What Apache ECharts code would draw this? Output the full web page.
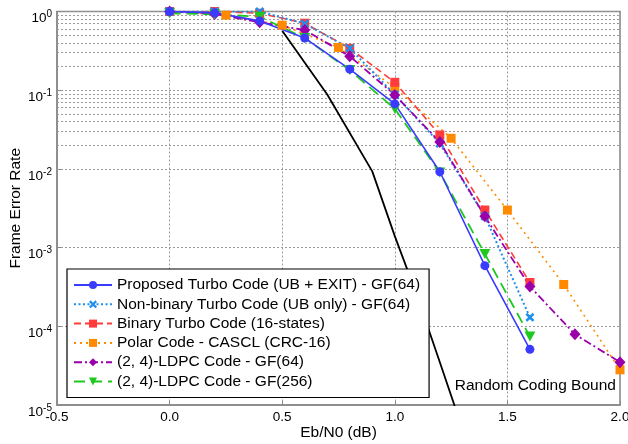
<!DOCTYPE html>
<html>
<head>
<meta charset="utf-8">
<script src="https://cdn.jsdelivr.net/npm/echarts@6/dist/echarts.min.js"></script>
<style>html,body{margin:0;padding:0;background:#fff}#c{width:628px;height:444px}</style>
</head>
<body>
<div id="c"></div>
<script>
// ---- data ----
const xStep02 = [0, 0.2, 0.4, 0.6, 0.8, 1.0, 1.2, 1.4, 1.6];
const proposedFER = [1.0, 0.96, 0.76, 0.46, 0.185, 0.067, 0.0092, 5.9e-4, 5.1e-5];
const nonBinaryFER = [1.0, 1.0, 1.0, 0.70, 0.34, 0.088, 0.021, 0.0025, 1.3e-4];
const binaryFER = [1.0, 1.0, 0.95, 0.71, 0.34, 0.126, 0.027, 0.003, 3.6e-4];
const polarX = [0, 0.25, 0.5, 0.75, 1.0, 1.25, 1.5, 1.75, 2.0];
const polarFER = [1.0, 0.9, 0.67, 0.35, 0.108, 0.0245, 0.003, 3.4e-4, 2.8e-5];
const ldpc64X = [0, 0.2, 0.4, 0.6, 0.8, 1.0, 1.2, 1.4, 1.6, 1.8, 2.0];
const ldpc64FER = [1.0, 0.93, 0.73, 0.58, 0.27, 0.087, 0.022, 0.0025, 3.2e-4, 7.9e-5, 3.5e-5];
const ldpc256FER = [0.95, 0.92, 0.86, 0.46, 0.18, 0.058, 0.009, 8.3e-4, 7.4e-5];
const boundX = [0.5, 0.7, 0.9, 1.0, 1.1, 1.2, 1.3];
const boundFER = [0.57, 0.088, 0.0093, 1.4e-3, 2.4e-4, 3.5e-5, 5e-6];
const seriesNames = [
  'Proposed Turbo Code (UB + EXIT) - GF(64)',
  'Non-binary Turbo Code (UB only) - GF(64)',
  'Binary Turbo Code (16-states)',
  'Polar Code - CASCL (CRC-16)',
  '(2, 4)-LDPC Code - GF(64)',
  '(2, 4)-LDPC Code - GF(256)'
];
const boundLabel = 'Random Coding Bound';
const xTicks = [-0.5, 2.0, 0.5];          // min, max, interval
const yDecades = [-5, -4, -3, -2, -1, 0];
const minorMultipliers = [2, 3, 4, 5, 6, 7, 8, 9];

// ---- build ----
const pairs = (xs, ys) => xs.map((x, i) => [x, ys[i]]);
const minorLines = [];
yDecades.slice(0, -1).forEach(d => minorMultipliers.forEach(m => minorLines.push({ yAxis: m * Math.pow(10, d) })));

const FONT = 'Liberation Sans';
const XPATH = 'path://M2,0L5,3L8,0L10,2L7,5L10,8L8,10L5,7L2,10L0,8L3,5L0,2Z';

function mk(name, data, color, type, width, symbol, size, extra) {
  return Object.assign({
    name, type: 'line', data, color,
    lineStyle: { color, type, width },
    itemStyle: { color },
    symbol, symbolSize: size, showSymbol: true, z: 3
  }, extra || {});
}

const series = [
  {
    name: 'bound', type: 'line', data: pairs(boundX, boundFER), symbol: 'none',
    lineStyle: { color: '#000', width: 1.8 }, color: '#000', z: 2,
    markLine: {
      silent: true, symbol: 'none', label: { show: false },
      lineStyle: { color: '#9a9a9a', type: [2, 2], width: 1 },
      data: minorLines, z: 1, animation: false
    },
    markPoint: {
      symbol: 'rect', symbolSize: 0,
      label: { show: true, position: 'inside', formatter: boundLabel, color: '#000', fontSize: 15.5, fontFamily: FONT },
      data: [{ coord: [1.624, 1.74e-5] }]
    }
  },
  mk(seriesNames[3], pairs(polarX, polarFER), '#ff8a00', [2, 4], 1.6, 'rect', 9),
  mk(seriesNames[2], pairs(xStep02, binaryFER), '#ff3b3b', [7, 4], 1.6, 'rect', 9),
  mk(seriesNames[1], pairs(xStep02, nonBinaryFER), '#1e8fee', [2, 2.5], 2, XPATH, 9),
  mk(seriesNames[4], pairs(ldpc64X, ldpc64FER), '#9a00aa', [8, 3, 2, 3], 1.8, 'diamond', [11, 12]),
  mk(seriesNames[5], pairs(xStep02, ldpc256FER), '#1ec81e', [11, 6], 1.8, 'path://M0,0L10,0L5,9Z', [11, 10]),
  mk(seriesNames[0], pairs(xStep02, proposedFER), '#3b3bff', 'solid', 1.6, 'circle', 9)
];

const chart = echarts.init(document.getElementById('c'), null, { renderer: 'canvas' });
chart.setOption({
  animation: false,
  backgroundColor: '#fff',
  textStyle: { fontFamily: FONT },
  grid: {
    left: 57, right: 8, top: 11.5, bottom: 39, show: true, borderColor: '#888', borderWidth: 1.5,
    backgroundColor: 'transparent', containLabel: false, outerBoundsMode: 'none'
  },
  legend: {
    data: seriesNames,
    orient: 'vertical', left: 67, top: 269,
    backgroundColor: '#fff', borderColor: '#000', borderWidth: 1.2,
    padding: [8, 9, 8, 6], itemGap: 3.3, itemWidth: 38, itemHeight: 10,
    textStyle: { fontSize: 15.5, color: '#000', fontFamily: FONT },
    selectedMode: false
  },
  xAxis: {
    type: 'value', min: xTicks[0], max: xTicks[1], interval: xTicks[2],
    name: 'Eb/N0 (dB)', nameLocation: 'middle', nameGap: 20, nameMoveOverlap: false,
    nameTextStyle: { fontSize: 15.5, color: '#000', fontFamily: FONT },
    axisLine: { show: true, onZero: false, lineStyle: { color: '#888', width: 1.5 } },
    axisTick: { show: true, inside: true, length: 4, lineStyle: { color: '#888' } },
    axisLabel: { fontSize: 13.5, color: '#000', margin: 5, formatter: v => v.toFixed(1), fontFamily: FONT },
    splitLine: { show: true, lineStyle: { color: '#9a9a9a', type: [2, 2], width: 1 } }
  },
  yAxis: {
    type: 'log', logBase: 10, min: 1e-5, max: 1,
    name: 'Frame Error Rate', nameLocation: 'middle', nameGap: 33, nameMoveOverlap: false,
    nameTextStyle: { fontSize: 15.5, color: '#000', fontFamily: FONT },
    axisLine: { show: true, onZero: false, lineStyle: { color: '#888', width: 1.5 } },
    axisTick: { show: true, inside: true, length: 4, lineStyle: { color: '#888' } },
    axisLabel: {
      margin: 5, color: '#000', padding: [8, 0, 0, 0],
      formatter: v => '{b|10}{s|' + Math.round(Math.log10(v)) + '}',
      rich: {
        b: { fontSize: 13.5, lineHeight: 14, padding: [8, 0, 0, 0], verticalAlign: 'bottom', fontFamily: FONT, color: '#000' },
        s: { fontSize: 10, lineHeight: 20, padding: [4, 0, 0, 0], verticalAlign: 'top', fontFamily: FONT, color: '#000' }
      }
    },
    splitLine: { show: true, lineStyle: { color: '#9a9a9a', type: [2, 2], width: 1 } }
  },
  series
});
</script>
</body>
</html>
